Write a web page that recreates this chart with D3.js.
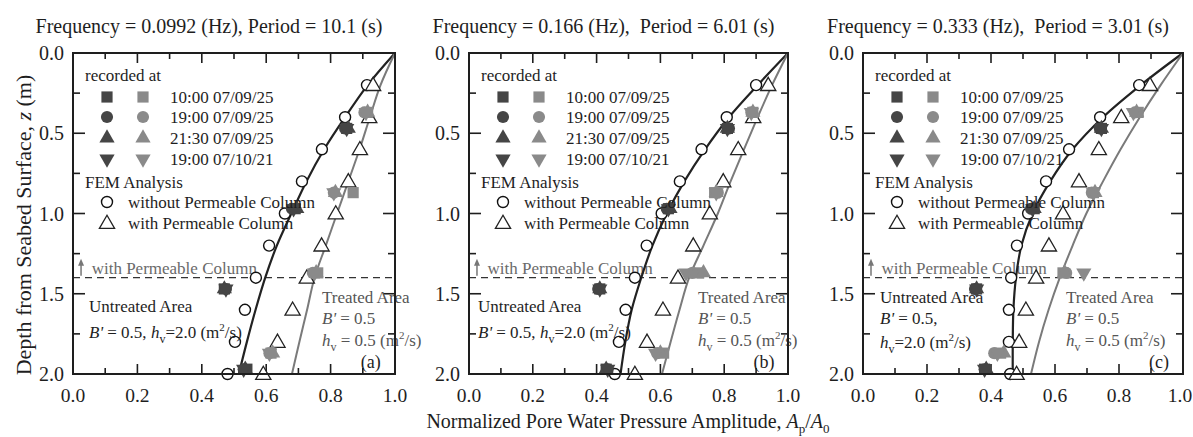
<!DOCTYPE html>
<html lang="en">
<head>
<meta charset="UTF-8">
<title>Pore water pressure amplitude vs depth</title>
<script src="https://cdnjs.cloudflare.com/ajax/libs/d3/7.8.2/d3.min.js"></script>
<style>
  html, body { margin: 0; padding: 0; background: #fff; }
</style>
</head>
<body>
<div id="chart"></div>
<script>
// ---- data ----
const titles = [
  "Frequency = 0.0992 (Hz), Period = 10.1 (s)",
  "Frequency = 0.166 (Hz),  Period = 6.01 (s)",
  "Frequency = 0.333 (Hz),  Period = 3.01 (s)"
];
const panelTags = ["(a)", "(b)", "(c)"];
const xTicks = [0, 0.2, 0.4, 0.6, 0.8, 1.0];
const yTicks = [0, 0.5, 1.0, 1.5, 2.0];
const recordTimes = ["10:00 07/09/25", "19:00 07/09/25", "21:30 07/09/25", "19:00 07/10/21"];

// FEM depths (circles / triangles) and curve depths
const femDepth = [0.2, 0.4, 0.6, 0.8, 1.0, 1.2, 1.4, 1.6, 1.8, 2.0];
const curveDepth = [0, 0.2, 0.4, 0.6, 0.8, 1.0, 1.2, 1.4, 1.6, 1.8, 2.0];

const femWithoutA = [0.913, 0.845, 0.773, 0.711, 0.658, 0.609, 0.568, 0.534, 0.503, 0.48];
const femWithA    = [0.932, 0.92, 0.891, 0.855, 0.816, 0.772, 0.726, 0.682, 0.635, 0.591];
const curveWithoutA = [1.0, 0.915, 0.845, 0.78, 0.725, 0.678, 0.633, 0.597, 0.567, 0.54, 0.515];
const curveWithA    = [1.0, 0.955, 0.922, 0.89, 0.855, 0.82, 0.785, 0.75, 0.727, 0.703, 0.68];

const femWithoutB = [0.9, 0.808, 0.729, 0.661, 0.604, 0.557, 0.52, 0.491, 0.47, 0.457];
const femWithB    = [0.938, 0.891, 0.844, 0.797, 0.755, 0.703, 0.655, 0.608, 0.558, 0.52];
const curveWithoutB = [1.0, 0.905, 0.815, 0.74, 0.675, 0.62, 0.575, 0.54, 0.51, 0.49, 0.475];
const curveWithB    = [1.0, 0.95, 0.905, 0.862, 0.82, 0.78, 0.735, 0.69, 0.66, 0.632, 0.605];

const femWithoutC = [0.863, 0.741, 0.644, 0.572, 0.516, 0.481, 0.463, 0.456, 0.456, 0.46];
const femWithC    = [0.897, 0.807, 0.737, 0.675, 0.625, 0.581, 0.541, 0.509, 0.488, 0.48];
const curveWithoutC = [1.0, 0.868, 0.75, 0.655, 0.585, 0.53, 0.495, 0.478, 0.47, 0.468, 0.468];
const curveWithC    = [1.0, 0.93, 0.865, 0.805, 0.75, 0.698, 0.655, 0.615, 0.58, 0.55, 0.525];

// measured amplitudes, rows = record time, columns = sensor depth
const untreatedDepth = [0.47, 0.97, 1.47, 1.97];
const treatedDepth = [0.37, 0.87, 1.37, 1.87];

const measUntreatedA = [[0.85, 0.69, 0.47, 0.54], [0.845, 0.68, 0.475, 0.53], [0.855, 0.695, 0.47, 0.535], [0.85, 0.685, 0.475, 0.53]];
const measTreatedA   = [[0.915, 0.87, 0.76, 0.615], [0.905, 0.81, 0.745, 0.61], [0.915, 0.815, 0.755, 0.62], [0.91, 0.81, 0.75, 0.61]];
const measUntreatedB = [[0.81, 0.625, 0.41, 0.43], [0.815, 0.62, 0.405, 0.435], [0.81, 0.63, 0.41, 0.43], [0.81, 0.625, 0.41, 0.435]];
const measTreatedB   = [[0.89, 0.77, 0.72, 0.61], [0.885, 0.78, 0.7, 0.59], [0.89, 0.775, 0.735, 0.6], [0.885, 0.775, 0.68, 0.585]];
const measUntreatedC = [[0.745, 0.535, 0.355, 0.38], [0.74, 0.525, 0.35, 0.38], [0.745, 0.535, 0.355, 0.385], [0.745, 0.53, 0.355, 0.38]];
const measTreatedC   = [[0.86, 0.72, 0.625, 0.43], [0.85, 0.715, 0.635, 0.41], [0.855, 0.725, 0.63, 0.44], [0.845, 0.72, 0.69, 0.42]];

const columnDepth = 1.4;

// ---- layout ----
const W = 1193, H = 437;
const plotTop = 53, plotBottom = 374;
const FONT = "'Liberation Serif', 'DejaVu Serif', serif";
const panels = [
  { left: 73, right: 395, fw: femWithoutA, fp: femWithA, cw: curveWithoutA, cp: curveWithA, mu: measUntreatedA, mt: measTreatedA,
    untreated: { x: 16, lines: [312, 338], split: false }, treated: { x: 249 } },
  { left: 469, right: 788, fw: femWithoutB, fp: femWithB, cw: curveWithoutB, cp: curveWithB, mu: measUntreatedB, mt: measTreatedB,
    untreated: { x: 9, lines: [312, 338], split: false }, treated: { x: 229 } },
  { left: 863, right: 1183, fw: femWithoutC, fp: femWithC, cw: curveWithoutC, cp: curveWithC, mu: measUntreatedC, mt: measTreatedC,
    untreated: { x: 17, lines: [303, 324, 348], split: true }, treated: { x: 203 } }
];

const dark = "#454545", light = "#8a8a8a", ink = "#1e1e1e", grayLine = "#7a7a7a";
const symbols = [d3.symbolSquare, d3.symbolCircle, d3.symbolTriangle, d3.symbolTriangle];
const symSize = [125, 115, 100, 100];
const symRot = [0, 0, 0, 180];

const svg = d3.select("#chart").append("svg")
  .attr("width", W).attr("height", H)
  .attr("font-family", FONT)
  .style("display", "block");

// helper: h_v = value (m^2/s) with sub/superscripts
function hvText(sel, prefix, value) {
  sel.append("tspan").text(prefix);
  sel.append("tspan").attr("font-style", "italic").text("h");
  sel.append("tspan").attr("dy", 5).attr("font-size", 12).text("v");
  sel.append("tspan").attr("dy", -5).text(value + " (m");
  sel.append("tspan").attr("dy", -7).attr("font-size", 11).text("2");
  sel.append("tspan").attr("dy", 7).text("/s)");
}

panels.forEach((p, i) => {
  const x = d3.scaleLinear().domain([0, 1]).range([p.left, p.right]);
  const y = d3.scaleLinear().domain([0, 2]).range([plotTop, plotBottom]);
  const g = svg.append("g");

  // title
  g.append("text")
    .attr("x", (p.left + p.right) / 2 - 25).attr("y", 33)
    .attr("text-anchor", "middle").attr("font-size", 20).attr("fill", ink)
    .attr("xml:space", "preserve")
    .text(titles[i]);

  // ticks (inward on all four sides)
  const xt = d3.range(0, 1.0001, 0.1);
  xt.forEach((v, k) => {
    const len = k % 2 === 0 ? 10 : 6;
    g.append("line").attr("x1", x(v)).attr("x2", x(v)).attr("y1", plotBottom).attr("y2", plotBottom - len)
      .attr("stroke", ink).attr("stroke-width", 1.6);
    g.append("line").attr("x1", x(v)).attr("x2", x(v)).attr("y1", plotTop).attr("y2", plotTop + len)
      .attr("stroke", ink).attr("stroke-width", 1.6);
  });
  const yt = d3.range(0, 2.0001, 0.25);
  yt.forEach((v, k) => {
    const len = k % 2 === 0 ? 12 : 7;
    g.append("line").attr("x1", p.left).attr("x2", p.left + len).attr("y1", y(v)).attr("y2", y(v))
      .attr("stroke", ink).attr("stroke-width", 1.6);
    g.append("line").attr("x1", p.right).attr("x2", p.right - len).attr("y1", y(v)).attr("y2", y(v))
      .attr("stroke", ink).attr("stroke-width", 1.6);
  });

  // tick labels (last label kept inside the window)
  g.selectAll(".xl").data(xTicks).enter().append("text")
    .attr("x", d => Math.min(x(d), W - 13)).attr("y", plotBottom + 28)
    .attr("text-anchor", "middle").attr("font-size", 19.5).attr("fill", ink)
    .text(d => d3.format(".1f")(d));
  g.selectAll(".yl").data(yTicks).enter().append("text")
    .attr("x", p.left - 9).attr("y", d => y(d) + 7)
    .attr("text-anchor", "end").attr("font-size", 20).attr("fill", ink)
    .text(d => d3.format(".1f")(d));

  // column depth dashed line
  g.append("line")
    .attr("x1", x(0)).attr("x2", x(1)).attr("y1", y(columnDepth)).attr("y2", y(columnDepth))
    .attr("stroke", "#333").attr("stroke-width", 1.3).attr("stroke-dasharray", "7,5");
  // arrow + label
  g.append("line")
    .attr("x1", x(0.025)).attr("x2", x(0.025)).attr("y1", y(columnDepth) - 2).attr("y2", y(1.32))
    .attr("stroke", "#777").attr("stroke-width", 1.5);
  g.append("path")
    .attr("d", `M${x(0.025)},${y(1.3) - 3} l-3,7 l6,0 z`)
    .attr("fill", "#777");
  g.append("text")
    .attr("x", x(0.058)).attr("y", y(columnDepth) - 4)
    .attr("font-size", 17).attr("fill", "#6a6a6a")
    .text("with Permeable Column");

  // curves
  const line = d3.line().curve(d3.curveCatmullRom.alpha(0.5));
  g.append("path")
    .attr("d", line(curveDepth.map((d, k) => [x(p.cw[k]), y(d)])))
    .attr("fill", "none").attr("stroke", "#222").attr("stroke-width", 2.2);
  g.append("path")
    .attr("d", line(curveDepth.map((d, k) => [x(p.cp[k]), y(d)])))
    .attr("fill", "none").attr("stroke", grayLine).attr("stroke-width", 2);

  // FEM points
  g.selectAll(".fw").data(femDepth).enter().append("circle")
    .attr("cx", (d, k) => x(p.fw[k])).attr("cy", d => y(d)).attr("r", 5.5)
    .attr("fill", "#fff").attr("stroke", "#111").attr("stroke-width", 1.4);
  g.selectAll(".fp").data(femDepth).enter().append("path")
    .attr("d", d3.symbol(d3.symbolTriangle, 100))
    .attr("transform", (d, k) => `translate(${x(p.fp[k])},${y(d) + 1})`)
    .attr("fill", "#fff").attr("stroke", "#222").attr("stroke-width", 1.3);

  // measured points
  recordTimes.forEach((t, s) => {
    g.selectAll(null).data(untreatedDepth).enter().append("path")
      .attr("d", d3.symbol(symbols[s], symSize[s]))
      .attr("transform", (d, k) => `translate(${x(p.mu[s][k])},${y(d)}) rotate(${symRot[s]})`)
      .attr("fill", dark);
    g.selectAll(null).data(treatedDepth).enter().append("path")
      .attr("d", d3.symbol(symbols[s], symSize[s]))
      .attr("transform", (d, k) => `translate(${x(p.mt[s][k])},${y(d)}) rotate(${symRot[s]})`)
      .attr("fill", light);
  });

  // legend
  const lx = p.left;
  g.append("text").attr("x", lx + 12).attr("y", 81).attr("font-size", 17).attr("fill", ink).text("recorded at");
  const rowY = [97, 117, 138, 159];
  recordTimes.forEach((t, s) => {
    g.append("path").attr("d", d3.symbol(symbols[s], symSize[s]))
      .attr("transform", `translate(${lx + 34},${rowY[s]}) rotate(${symRot[s]})`).attr("fill", dark);
    g.append("path").attr("d", d3.symbol(symbols[s], symSize[s]))
      .attr("transform", `translate(${lx + 70},${rowY[s]}) rotate(${symRot[s]})`).attr("fill", light);
    g.append("text").attr("x", lx + 97).attr("y", rowY[s] + 6).attr("font-size", 17).attr("fill", ink).text(t);
  });
  g.append("text").attr("x", lx + 12).attr("y", 188).attr("font-size", 17).attr("fill", ink).text("FEM Analysis");
  g.append("circle").attr("cx", lx + 34).attr("cy", 202).attr("r", 5.5)
    .attr("fill", "none").attr("stroke", "#111").attr("stroke-width", 1.4);
  g.append("text").attr("x", lx + 55).attr("y", 208).attr("font-size", 17).attr("fill", ink).text("without Permeable Column");
  g.append("path").attr("d", d3.symbol(d3.symbolTriangle, 100))
    .attr("transform", `translate(${lx + 34},${224})`)
    .attr("fill", "none").attr("stroke", "#222").attr("stroke-width", 1.3);
  g.append("text").attr("x", lx + 55).attr("y", 229).attr("font-size", 17).attr("fill", ink).text("with Permeable Column");

  // area annotations
  const u = p.untreated;
  g.append("text").attr("x", lx + u.x).attr("y", u.lines[0]).attr("font-size", 17).attr("fill", ink).text("Untreated Area");
  if (!u.split) {
    const t = g.append("text").attr("x", lx + u.x).attr("y", u.lines[1]).attr("font-size", 17).attr("fill", ink);
    t.append("tspan").attr("font-style", "italic").text("B'");
    hvText(t, " = 0.5, ", "=2.0");
  } else {
    const t1 = g.append("text").attr("x", lx + u.x).attr("y", u.lines[1]).attr("font-size", 17).attr("fill", ink);
    t1.append("tspan").attr("font-style", "italic").text("B'");
    t1.append("tspan").text(" = 0.5,");
    const t2 = g.append("text").attr("x", lx + u.x).attr("y", u.lines[2]).attr("font-size", 17).attr("fill", ink);
    hvText(t2, "", "=2.0");
  }
  const tr = p.treated;
  const trCol = "#555";
  g.append("text").attr("x", lx + tr.x).attr("y", 303).attr("font-size", 17).attr("fill", trCol).text("Treated Area");
  const b1 = g.append("text").attr("x", lx + tr.x).attr("y", 324).attr("font-size", 17).attr("fill", trCol);
  b1.append("tspan").attr("font-style", "italic").text("B'");
  b1.append("tspan").text(" = 0.5");
  const b2 = g.append("text").attr("x", lx + tr.x).attr("y", 346).attr("font-size", 17).attr("fill", trCol);
  hvText(b2, "", " = 0.5");

  // panel tag
  g.append("text").attr("x", x(0.925)).attr("y", 368).attr("text-anchor", "middle")
    .attr("font-size", 18).attr("fill", ink).text(panelTags[i]);

  // frame
  g.append("rect")
    .attr("x", p.left).attr("y", plotTop)
    .attr("width", p.right - p.left).attr("height", plotBottom - plotTop)
    .attr("fill", "none").attr("stroke", ink).attr("stroke-width", 2);
});

// axis titles
const yl = svg.append("text")
  .attr("transform", "translate(31,225) rotate(-90)")
  .attr("text-anchor", "middle").attr("font-size", 22).attr("fill", ink);
yl.append("tspan").text("Depth from Seabed Surface, ");
yl.append("tspan").attr("font-style", "italic").text("z");
yl.append("tspan").text(" (m)");

const xl = svg.append("text")
  .attr("x", 628).attr("y", 428)
  .attr("text-anchor", "middle").attr("font-size", 20).attr("fill", ink);
xl.append("tspan").text("Normalized Pore Water Pressure Amplitude, ");
xl.append("tspan").attr("font-style", "italic").text("A");
xl.append("tspan").attr("dy", 5).attr("font-size", 13).text("p");
xl.append("tspan").attr("dy", -5).text("/");
xl.append("tspan").attr("font-style", "italic").text("A");
xl.append("tspan").attr("dy", 5).attr("font-size", 13).text("0");
</script>
</body>
</html>
